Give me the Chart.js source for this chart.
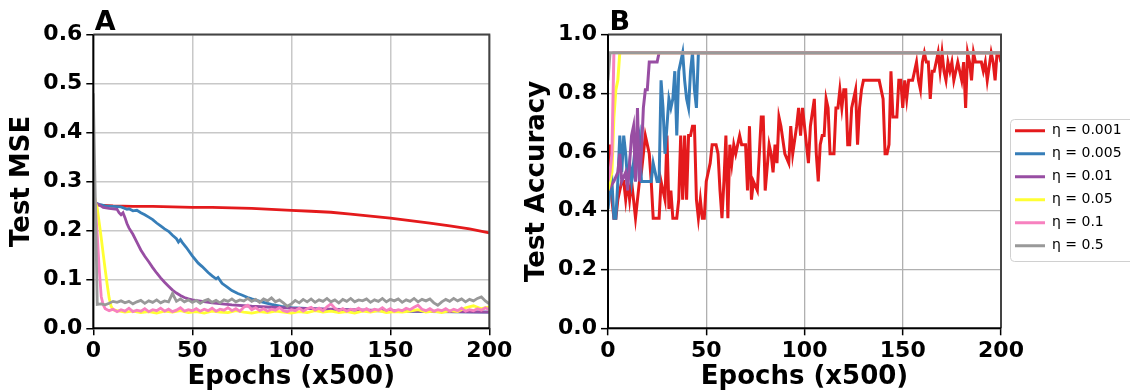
<!DOCTYPE html>
<html><head><meta charset="utf-8">
<script src="https://cdn.jsdelivr.net/npm/chart.js@4.4.0/dist/chart.umd.min.js"></script>
<style>
html,body{margin:0;padding:0;background:#fff;width:1130px;height:392px;overflow:hidden;}
#a{position:absolute;left:0;top:0;}
#b{position:absolute;left:520px;top:0;}
</style></head><body>
<canvas id="a" width="520" height="392"></canvas>
<canvas id="b" width="610" height="392"></canvas>
<script>
// ---------- labels ----------
const seriesNames = ['η = 0.001','η = 0.005','η = 0.01','η = 0.05','η = 0.1','η = 0.5'];
const seriesColors = ['#e41a1c','#377eb8','#984ea3','#ffff33','#f781bf','#999999'];
const xTickLabels = ['0','50','100','150','200'];
const mseTickLabels = ['0.0','0.1','0.2','0.3','0.4','0.5','0.6'];
const accTickLabels = ['0.0','0.2','0.4','0.6','0.8','1.0'];

function range(a,b,s){const r=[];for(let v=a;v<=b;v+=s)r.push(v);return r;}

// ---------- Panel A: Test MSE ----------
const mseRedEpochs = [0,1,5,10,20,30,40,50,60,70,80,90,100,110,120,130,140,150,160,170,180,190,200];
const mseRedValues = [0.252,0.252,0.251,0.250,0.249,0.249,0.248,0.247,0.247,0.246,0.245,0.243,0.241,0.239,0.237,0.233,0.229,0.225,0.220,0.215,0.209,0.203,0.195];

const mseBlueEpochs = [0,1,3,6,10,14,17,18,20,22,24,26,28,30,32,34,36,38,40,42,43,44,45,47,50,53,55,58,60,62,63,65,68,70,73,75,78,80,85,90,95,100,110,120,130,140,150,170,200];
const mseBlueValues = [0.26,0.256,0.253,0.25,0.249,0.248,0.243,0.244,0.24,0.241,0.236,0.232,0.227,0.222,0.215,0.209,0.203,0.198,0.19,0.183,0.176,0.181,0.175,0.165,0.148,0.133,0.126,0.114,0.107,0.101,0.104,0.092,0.083,0.077,0.071,0.068,0.063,0.06,0.054,0.049,0.045,0.042,0.04,0.038,0.037,0.036,0.035,0.034,0.033];

const msePurpleEpochs = [0,1,3,5,8,10,12,13,14,15,16,17,18,20,22,24,26,28,30,32,34,36,38,40,42,44,46,48,50,55,60,65,70,80,90,100,120,140,160,180,200];
const msePurpleValues = [0.26,0.256,0.252,0.247,0.245,0.244,0.243,0.236,0.232,0.236,0.226,0.214,0.205,0.192,0.176,0.16,0.147,0.136,0.124,0.113,0.103,0.094,0.086,0.078,0.072,0.067,0.063,0.06,0.058,0.055,0.052,0.05,0.048,0.045,0.043,0.041,0.039,0.037,0.035,0.034,0.033];

const mseYellowEpochs = range(0,10,1).concat(range(12,200,4));
const mseYellowValues = [0.29,0.258,0.245,0.215,0.185,0.152,0.12,0.09,0.062,0.045,0.038,
 0.036,0.033,0.035,0.032,0.034,0.031,0.035,0.033,0.036,0.032,
 0.034,0.031,0.035,0.033,0.032,0.036,0.033,0.031,0.034,0.032,
 0.035,0.033,0.031,0.034,0.032,0.036,0.033,0.035,0.032,0.034,
 0.031,0.035,0.033,0.036,0.032,0.034,0.033,0.035,0.038,0.033,
 0.035,0.032,0.036,0.034,0.042,0.046,0.040,0.044];

const msePinkEpochs = range(0,5,1).concat(range(6,200,2));
const msePinkValues = [0.3,0.25,0.19,0.12,0.065,0.048,
 0.040,0.036,0.039,0.034,0.038,0.035,0.041,0.034,0.037,0.035,
 0.040,0.034,0.038,0.036,0.041,0.035,0.039,0.034,0.037,0.042,
 0.035,0.038,0.036,0.040,0.035,0.039,0.036,0.041,0.035,0.039,
 0.037,0.042,0.036,0.040,0.035,0.043,0.047,0.038,0.042,0.036,
 0.040,0.035,0.039,0.037,0.042,0.036,0.034,0.038,0.036,0.041,
 0.035,0.040,0.043,0.037,0.041,0.036,0.044,0.050,0.041,0.036,
 0.040,0.035,0.039,0.037,0.041,0.036,0.040,0.035,0.039,0.037,
 0.042,0.036,0.040,0.035,0.038,0.036,0.041,0.038,0.043,0.047,
 0.039,0.036,0.040,0.035,0.038,0.036,0.040,0.035,0.039,0.036,
 0.041,0.035,0.038,0.036,0.040,0.037,0.042,0.038];

const mseGrayEpochs = [0].concat(range(2,200,2));
const mseGrayValues = [0.48,
 0.049,0.050,0.048,0.051,0.055,0.053,0.056,0.052,0.055,0.050,
 0.054,0.057,0.051,0.056,0.053,0.058,0.052,0.056,0.054,0.071,
 0.055,0.060,0.054,0.058,0.053,0.057,0.051,0.056,0.059,0.053,
 0.057,0.052,0.058,0.055,0.060,0.054,0.058,0.056,0.061,0.055,
 0.059,0.053,0.060,0.056,0.062,0.054,0.058,0.052,0.045,0.050,
 0.057,0.052,0.059,0.054,0.060,0.053,0.058,0.055,0.061,0.054,
 0.058,0.052,0.059,0.055,0.061,0.054,0.058,0.056,0.060,0.053,
 0.058,0.055,0.061,0.054,0.059,0.056,0.060,0.053,0.058,0.055,
 0.061,0.054,0.059,0.056,0.060,0.052,0.047,0.054,0.059,0.055,
 0.061,0.056,0.060,0.054,0.059,0.056,0.061,0.064,0.056,0.050];

// ---------- Panel B: Test Accuracy ----------
const accRedEpochs = range(0,68,1).concat([70,71,72,73,74,76,78,79,80,82,83,84,85,86,87,88,90,92,93,94,96,97,98,99,100,102,103,105,106,107,108,109,110,111,112,113,115,116,117,118,119,120,121,122,123,124,126,127,128,129,130,138,140,141,142,143,144,145,147,148,149,150,151,152,153,155,156,157,158,159,160,161,162,163,164,165,166,167,168,169,170,171,172,173,174,175,176,177,178,179,180,181,182,183,184,185,186,187,188,190,191,192,193,195,196,197,198,199,200]);
const accRedValues = [
 0.5,0.625,0.438,0.375,0.375,0.438,0.469,0.5,0.5,0.438,
 0.5,0.438,0.5,0.438,0.375,0.438,0.5,0.531,0.594,0.656,
 0.625,0.594,0.5,0.375,0.375,0.375,0.375,0.5,0.469,0.438,
 0.656,0.406,0.469,0.375,0.375,0.375,0.438,0.656,0.438,0.656,
 0.438,0.656,0.656,0.688,0.688,0.438,0.375,0.438,0.375,0.375,
 0.5,0.531,0.562,0.625,0.625,0.625,0.594,0.469,0.375,0.5,
 0.656,0.375,0.625,0.562,0.625,0.594,0.625,0.656,0.625,
 0.625,0.469,0.688,0.438,0.5,0.469,0.719,0.719,0.469,0.625,
 0.594,0.531,0.625,0.562,0.719,0.688,0.594,0.562,0.688,0.594,
 0.688,0.75,0.656,0.75,0.688,0.562,0.688,0.781,0.594,0.5,
 0.625,0.656,0.656,0.781,0.75,0.594,0.594,0.75,0.75,0.812,
 0.75,0.812,0.812,0.625,0.625,0.75,0.812,0.625,0.75,0.812,
 0.844,0.844,0.781,0.594,0.594,0.625,0.875,0.719,0.719,0.844,
 0.844,0.75,0.844,0.781,0.844,0.844,0.875,0.906,0.844,0.812,
 0.906,0.938,0.906,0.906,0.781,0.875,0.875,0.906,0.938,0.875,
 0.938,0.875,0.844,0.906,0.875,0.906,0.844,0.875,0.906,0.875,
 0.844,0.906,0.75,0.938,0.906,0.844,0.938,0.906,0.906,0.906,
 0.875,0.906,0.844,0.938,0.906,0.844,0.938,0.938,0.906];

const accBlueEpochs = [0,1,2,3,4,5,6,7,8,9,10,11,12,13,14,15,16,17,18,20,22,23,24,25,26,27,28,29,30,31,32,33,34,35,36,37,38,39,40,41,42,43,44,45,46,200];
const accBlueValues = [0.406,0.469,0.5,0.375,0.375,0.5,0.656,0.531,0.656,0.594,0.5,0.562,0.5,0.562,0.5,0.625,0.656,0.5,0.5,0.5,0.5,0.562,0.531,0.5,0.5,0.844,0.75,0.594,0.688,0.781,0.75,0.781,0.875,0.656,0.875,0.906,0.938,0.844,0.781,0.75,0.875,0.938,0.812,0.75,0.938,0.938];

const accPurpleEpochs = [0,3,5,6,7,9,10,12,13,14,15,16,17,18,19,20,21,25,26,200];
const accPurpleValues = [0.469,0.5,0.531,0.594,0.5,0.531,0.469,0.656,0.688,0.5,0.75,0.5,0.594,0.75,0.812,0.812,0.906,0.906,0.938,0.938];

const accYellowEpochs = [0,1,2,3,4,5,6,200];
const accYellowValues = [0.469,0.5,0.531,0.719,0.812,0.844,0.938,0.938];

const accPinkEpochs = [0,1,2,3,200];
const accPinkValues = [0.5,0.531,0.594,0.938,0.938];

const accGrayEpochs = [0,1,200];
const accGrayValues = [0.844,0.938,0.938];

// ---------- helpers ----------
const FAM = 'DejaVu Sans';
function pts(xs, ys){ return xs.map((x,i)=>({x:x, y:ys[i]})); }
function makeSets(list, bw){
  return list.map((p,i)=>({
    label: seriesNames[i], data: pts(p[0],p[1]),
    borderColor: seriesColors[i], backgroundColor: seriesColors[i],
    borderWidth: bw, pointRadius: 0, tension: 0, fill: false,
    order: 6 - i
  }));
}
const framePlugin = {
  id: 'frame',
  afterDatasetsDraw(chart){
    const {ctx, chartArea:a} = chart;
    ctx.save();
    ctx.lineWidth = 2;
    ctx.strokeStyle = '#444';
    ctx.beginPath(); ctx.moveTo(a.left,a.top); ctx.lineTo(a.right,a.top); ctx.lineTo(a.right,a.bottom); ctx.stroke();
    ctx.strokeStyle = '#000';
    ctx.beginPath(); ctx.moveTo(a.left,a.top); ctx.lineTo(a.left,a.bottom); ctx.lineTo(a.right,a.bottom); ctx.stroke();
    ctx.restore();
  }
};
function letterPlugin(letter){
  return {
    id: 'letter',
    afterDraw(chart){
      const ctx = chart.ctx;
      ctx.save();
      ctx.font = 'bold 27px "' + FAM + '"';
      ctx.fillStyle = '#000';
      ctx.textBaseline = 'alphabetic';
      ctx.fillText(letter, chart.chartArea.left + 1.5, 30);
      ctx.restore();
    }
  };
}
function axisX(gridColor, gridW){
  return {
    type: 'linear', min: 0, max: 200,
    ticks: { stepSize: 50, color: '#000', padding: 3, maxRotation: 0,
      font: {family: FAM, size: 22, weight: 'bold'},
      callback: (v,i)=>xTickLabels[i] },
    grid: { color: gridColor, lineWidth: gridW, tickLength: 7, tickColor: '#000', tickWidth: 1.5 },
    border: { display: false },
    title: { display: true, text: 'Epochs (x500)', color: '#000',
      font: {family: FAM, size: 26, weight: 'bold', lineHeight: 1}, padding: {top: 0, bottom: 2} },
    afterFit: s => { s.height = 63.7; }
  };
}
function axisY(max, step, labels, title, width, titlePad, gridColor, gridW){
  return {
    min: 0, max: max,
    ticks: { stepSize: step, color: '#000', padding: 4,
      font: {family: FAM, size: 22, weight: 'bold'},
      callback: (v,i)=>labels[i] },
    grid: { color: gridColor, lineWidth: gridW, tickLength: 7, tickColor: '#000', tickWidth: 1.5 },
    border: { display: false },
    title: { display: true, text: title, color: '#000',
      font: {family: FAM, size: 26, weight: 'bold', lineHeight: 1}, padding: {top: titlePad, bottom: 0} },
    afterFit: s => { s.width = width; }
  };
}

// ---------- Chart A ----------
new Chart(document.getElementById('a'), {
  type: 'line',
  data: { datasets: makeSets([
    [mseRedEpochs, mseRedValues], [mseBlueEpochs, mseBlueValues], [msePurpleEpochs, msePurpleValues],
    [mseYellowEpochs, mseYellowValues], [msePinkEpochs, msePinkValues], [mseGrayEpochs, mseGrayValues]], 2.8) },
  options: {
    responsive: false, animation: false, devicePixelRatio: 1,
    layout: { padding: {left: 0, top: 34.5, right: 30.7, bottom: 0} },
    plugins: { legend: {display: false}, tooltip: {enabled: false} },
    scales: {
      x: axisX('#c8c8c8', 1.5),
      y: axisY(0.6, 0.1, mseTickLabels, 'Test MSE', 93.3, 9, '#c8c8c8', 1.5)
    }
  },
  plugins: [framePlugin, letterPlugin('A')]
});

// ---------- Chart B ----------
const legendPlugin = {
  id: 'legendPlace',
  afterLayout(chart){
    const lg = chart.legend;
    if (!lg || !lg.columnSizes || !lg.columnSizes.length) return;
    const pad = 9;
    const dx = 486 - lg.left;
    lg.left += dx; lg.right += dx;
    const cur = ((lg.top + pad) + (lg.bottom - lg.columnSizes[0].height)) / 2;
    const dy = 123.7 - cur;
    lg.top += dy; lg.bottom += dy;
  },
  afterDraw(chart){
    const ctx = chart.ctx;
    ctx.save();
    ctx.strokeStyle = '#d0d0d0';
    ctx.lineWidth = 1;
    const x = 490.5, y = 119.5, w = 150, h = 142, r = 4;
    ctx.beginPath();
    ctx.moveTo(x + r, y); ctx.lineTo(x + w, y); ctx.lineTo(x + w, y + h); ctx.lineTo(x + r, y + h);
    ctx.arcTo(x, y + h, x, y + h - r, r); ctx.lineTo(x, y + r); ctx.arcTo(x, y, x + r, y, r);
    ctx.stroke();
    ctx.restore();
  }
};
new Chart(document.getElementById('b'), {
  type: 'line',
  data: { datasets: makeSets([
    [accRedEpochs, accRedValues], [accBlueEpochs, accBlueValues], [accPurpleEpochs, accPurpleValues],
    [accYellowEpochs, accYellowValues], [accPinkEpochs, accPinkValues], [accGrayEpochs, accGrayValues]], 3) },
  options: {
    responsive: false, animation: false, devicePixelRatio: 1,
    layout: { padding: {left: 0, top: 34.5, right: 9, bottom: 0} },
    plugins: {
      tooltip: {enabled: false},
      legend: {
        display: true, position: 'right', maxWidth: 120,
        labels: {
          usePointStyle: true, pointStyle: 'line', pointStyleWidth: 30,
          padding: 9, color: '#000', font: {family: FAM, size: 14},
          sort: (a,b) => a.datasetIndex - b.datasetIndex
        }
      }
    },
    scales: {
      x: axisX('#b0b0b0', 1.3),
      y: axisY(1.0, 0.2, accTickLabels, 'Test Accuracy', 88, 4.5, '#b0b0b0', 1.3)
    }
  },
  plugins: [framePlugin, letterPlugin('B'), legendPlugin]
});
</script>
</body></html>
